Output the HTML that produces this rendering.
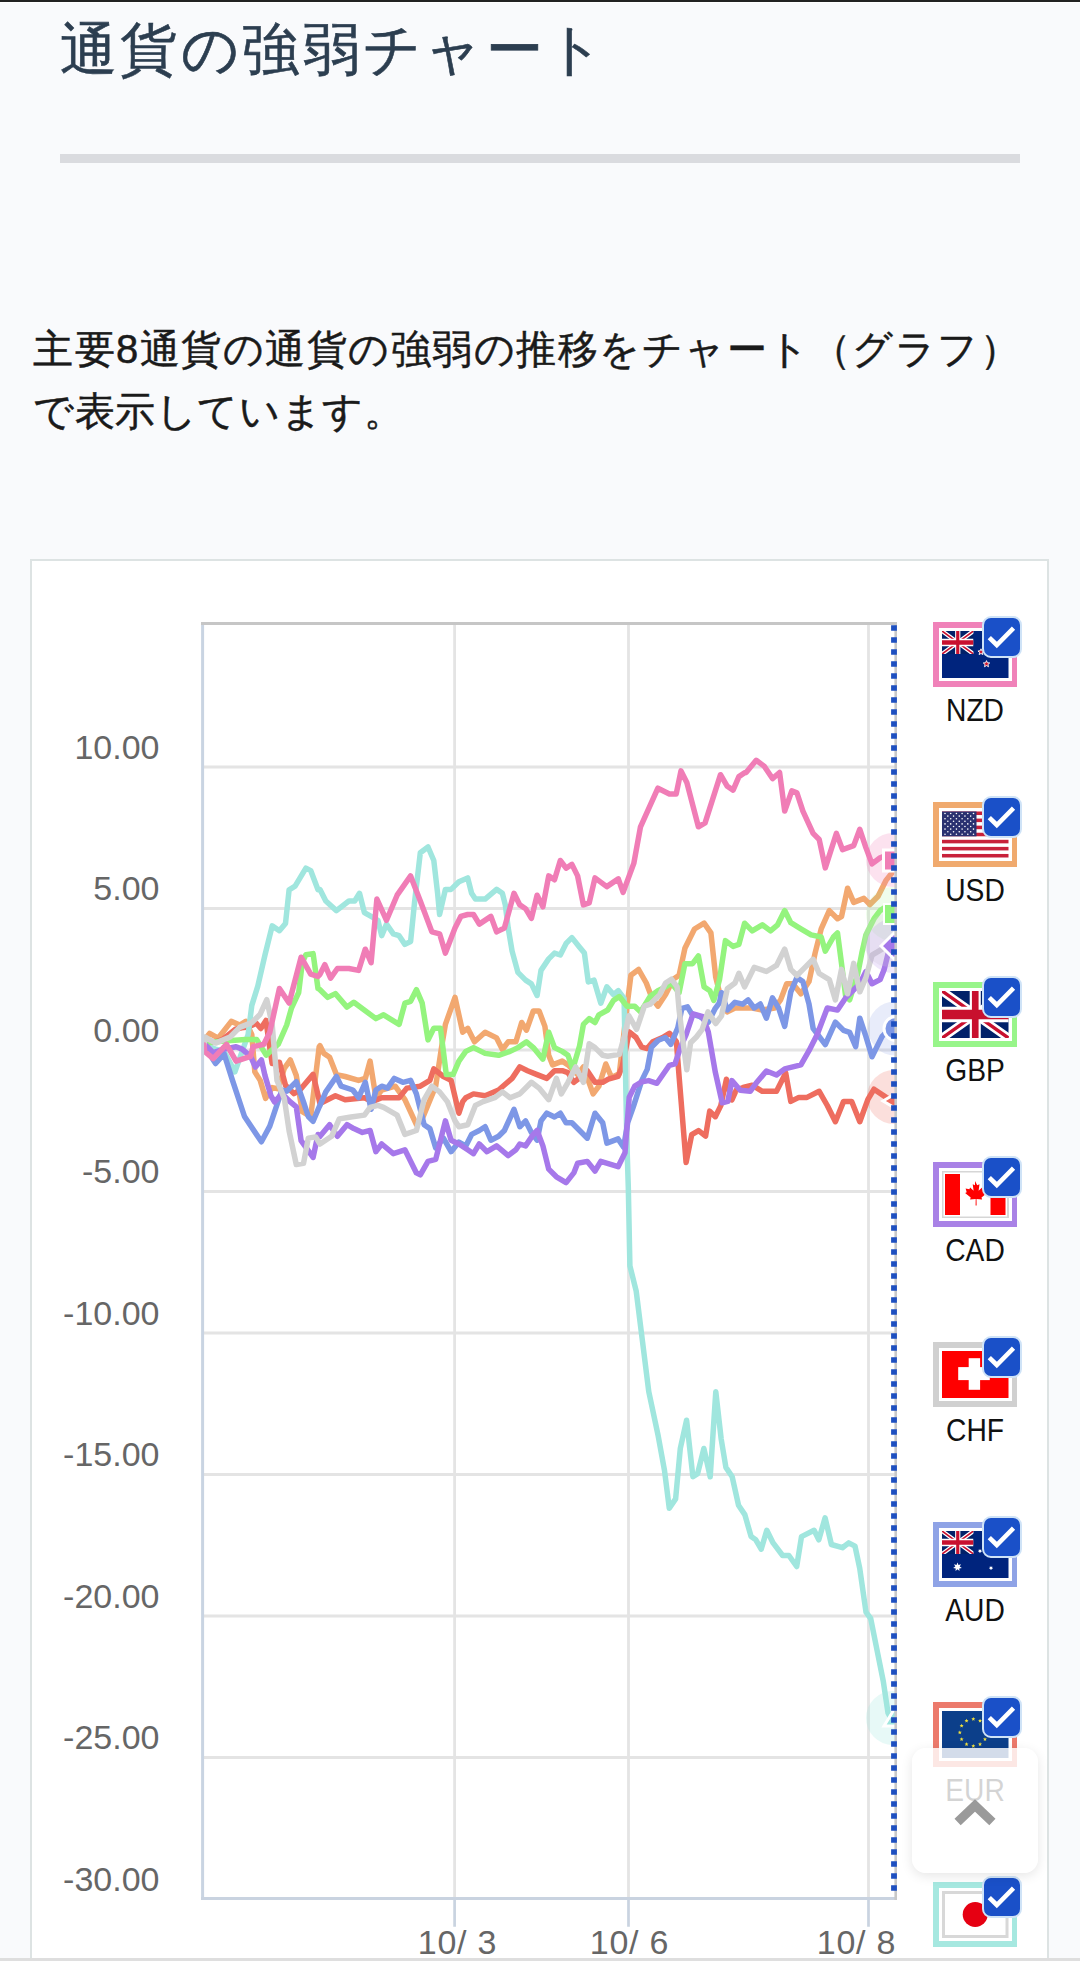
<!DOCTYPE html>
<html><head><meta charset="utf-8">
<style>
html,body{margin:0;padding:0;}
body{width:1080px;height:1970px;overflow:hidden;background:#f9fafc;position:relative;font-family:"Liberation Sans",sans-serif;}
.topbar{position:absolute;left:0;top:0;width:1080px;height:2px;background:#222;}
.topw{position:absolute;left:0;top:2px;width:1080px;height:1px;background:#fff;}
.title{position:absolute;left:60px;top:9px;-webkit-text-stroke:0.6px #2c3e50;font-size:57px;line-height:80px;color:#2c3e50;white-space:nowrap;letter-spacing:3.4px;}
.divider{position:absolute;left:60px;top:154px;width:960px;height:9px;background:#dadbdf;}
.para{position:absolute;left:33px;top:318px;font-size:40px;line-height:62px;color:#1a1a1a;white-space:nowrap;letter-spacing:1.5px;-webkit-text-stroke:0.5px #1a1a1a;}
.card{position:absolute;left:30px;top:559px;width:1015px;height:1420px;border:2.5px solid #dde3e3;border-bottom:none;background:#fff;}
.botline{position:absolute;left:0;top:1958px;width:1080px;height:2.7px;background:#dedede;}
.botw{position:absolute;left:0;top:1960.7px;width:1080px;height:10px;background:#fefefe;}
.ylab{position:absolute;width:159.5px;left:0;text-align:right;font-size:34px;color:#666;line-height:40px;}
.xlab{position:absolute;width:120px;text-align:center;font-size:34px;letter-spacing:0.8px;color:#666;line-height:40px;white-space:pre;}
.leg{position:absolute;left:933px;width:84px;height:64.5px;}
.leg .in{position:absolute;left:5.5px;top:5.5px;right:5.5px;bottom:5.5px;background:#fff;}
.leg .flag{position:absolute;left:9px;top:9px;width:66.5px;height:47px;overflow:hidden;line-height:0;}
.leg .chk{position:absolute;left:49.2px;top:-5.8px;width:39.8px;height:41.4px;box-sizing:border-box;border:2.2px solid #cfe3f7;border-radius:9px;background:#1a50c8;overflow:hidden;}
.leg .chk svg{position:absolute;left:-1px;top:0;}
.lname{position:absolute;left:920px;width:110px;text-align:center;font-size:31px;color:#111;line-height:32px;transform:scaleX(0.91);}
.totop{position:absolute;left:912px;top:1748px;width:126px;height:125px;border-radius:14px;background:rgba(255,255,255,0.82);box-shadow:0 3px 12px rgba(0,0,0,0.10);}
svg{display:block;}
</style></head>
<body>
<div class="topbar"></div><div class="topw"></div>
<div class="title">通貨の強弱チャート</div>
<div class="divider"></div>
<div class="para">主要8通貨の通貨の強弱の推移をチャート（グラフ）<br><span style="letter-spacing:0.6px">で表示しています。</span></div>
<div class="card"></div>
<div class="ylab" style="top:727.0px">10.00</div>
<div class="ylab" style="top:868.0px">5.00</div>
<div class="ylab" style="top:1010.0px">0.00</div>
<div class="ylab" style="top:1151.0px">-5.00</div>
<div class="ylab" style="top:1293.0px">-10.00</div>
<div class="ylab" style="top:1434.0px">-15.00</div>
<div class="ylab" style="top:1576.0px">-20.00</div>
<div class="ylab" style="top:1717.0px">-25.00</div>
<div class="ylab" style="top:1859.0px">-30.00</div>
<svg style="position:absolute;left:0;top:0" width="1080" height="1970">
<rect x="202.5" y="623.5" width="693" height="1275" fill="#fff"/>
<g stroke="#e4e4e4" stroke-width="2.8">
<path d="M204,767H895M204,908.5H895M204,1050H895M204,1191.5H895M204,1333H895M204,1474.5H895M204,1616H895M204,1757.5H895"/>
<path d="M454.6,625V1897M628.5,625V1897M868.5,625V1897"/>
</g>
<g stroke="#c9d3e0" stroke-width="2.7"><path d="M454.6,1899V1926.7M628.5,1899V1926.7M868.5,1899V1926.7"/></g>
<clipPath id="mk"><rect x="204" y="625" width="693" height="1272"/></clipPath>
<clipPath id="plot"><rect x="204" y="625" width="690.5" height="1272"/></clipPath>
<g clip-path="url(#plot)">
<path d="M204.0,1045.0 L204.8,1039.4 L209.6,1033.4 L218.1,1038.2 L231.3,1021.4 L239.7,1025.0 L245.7,1021.4 L251.8,1034.6 L254.8,1071.9 L260.2,1080.4 L265.6,1098.4 L272.2,1087.6 L278.2,1088.8 L284.3,1068.3 L290.3,1059.9 L296.3,1075.6 L302.3,1111.7 L310.7,1116.5 L319.2,1046.7 L320.0,1045.7 L323.9,1053.4 L329.6,1057.2 L336.4,1074.6 L345.1,1076.5 L358.6,1080.4 L365.3,1078.4 L370.1,1061.1 L375.9,1097.7 L381.7,1090.0 L395.2,1086.2 L404.9,1099.7 L416.4,1124.7 L422.2,1118.9 L435.7,1086.2 L441.5,1047.6 L445.4,1024.4 L455.0,997.4 L462.7,1032.2 L467.7,1028.3 L474.5,1041.8 L485.1,1032.2 L496.6,1037.9 L502.4,1049.5 L508.2,1041.8 L515.9,1041.8 L521.7,1022.5 L526.5,1030.2 L533.3,1010.9 L539.1,1010.9 L544.9,1026.4 L548.7,1055.3 L552.6,1064.9 L562.2,1061.1 L568.0,1064.9 L577.6,1074.6 L583.4,1066.9 L593.1,1093.9 L598.9,1086.2 L605.8,1064.0 L611.6,1077.5 L619.3,1073.7 L627.0,1006.2 L630.9,975.3 L638.6,969.5 L646.3,983.0 L652.1,998.4 L657.9,1006.2 L665.6,994.6 L673.3,979.2 L679.1,975.3 L684.9,948.3 L694.5,929.0 L704.1,923.2 L710.9,932.9 L715.7,977.2 L719.6,992.7 L727.3,1011.9 L735.0,1008.1 L752.2,1008.0 L762.3,1010.1 L774.5,1008.0 L780.6,999.9 L786.7,983.7 L792.8,983.7 L800.9,993.8 L809.0,981.6 L815.1,953.2 L821.2,928.8 L829.3,910.6 L837.5,918.7 L841.5,916.6 L847.6,888.2 L853.7,902.4 L863.9,898.4 L869.9,904.5 L878.1,896.3 L886.2,880.1 L894.3,869.9" fill="none" stroke="#f2a870" stroke-width="5.5" stroke-linejoin="round" stroke-linecap="round"/>
<path d="M204.0,1045.0 L212.6,1042.6 L222.3,1039.7 L235.5,1029.2 L241.5,1027.8 L248.1,1027.0 L256.3,1023.3 L260.8,1028.5 L266.0,1020.4 L268.9,1041.9 L272.2,1063.5 L279.4,1062.3 L285.5,1085.2 L293.9,1093.6 L299.9,1090.0 L313.1,1074.4 L320.0,1103.5 L335.4,1095.8 L345.1,1099.7 L364.4,1097.7 L372.1,1101.6 L381.7,1097.7 L399.1,1097.7 L406.8,1088.1 L420.3,1086.2 L429.9,1080.4 L433.8,1068.8 L443.4,1076.5 L451.1,1080.4 L458.9,1113.2 L462.7,1101.6 L465.8,1097.7 L473.5,1093.9 L485.1,1095.8 L498.6,1090.0 L512.1,1078.4 L519.8,1066.9 L527.5,1070.7 L537.1,1074.6 L546.8,1078.4 L554.5,1070.7 L562.2,1070.7 L568.0,1072.7 L573.8,1082.3 L581.5,1076.5 L587.3,1070.7 L595.0,1082.3 L602.7,1082.3 L608.3,1079.2 L618.1,1076.4 L622.2,1066.7 L629.2,1031.9 L636.1,1037.5 L641.7,1047.2 L647.2,1048.6 L652.8,1041.7 L662.5,1037.5 L669.4,1033.3 L672.2,1036.1 L676.4,1041.7 L679.2,1077.8 L686.1,1162.5 L691.7,1134.7 L698.6,1130.6 L705.6,1136.1 L709.7,1111.1 L715.3,1116.7 L720.8,1105.6 L726.4,1079.2 L731.9,1100.0 L736.1,1090.3 L743.1,1087.5 L752.2,1085.2 L762.3,1091.3 L776.5,1091.3 L785.7,1073.0 L790.8,1101.4 L798.9,1097.4 L807.0,1097.4 L819.2,1091.3 L827.3,1105.5 L835.4,1121.7 L843.6,1101.4 L851.7,1101.4 L859.8,1121.7 L867.9,1099.4 L874.0,1089.2 L886.2,1097.4 L894.0,1101.0" fill="none" stroke="#ee6d5f" stroke-width="5.5" stroke-linejoin="round" stroke-linecap="round"/>
<path d="M204.0,1045.0 L215.6,1049.1 L224.1,1051.5 L234.9,1071.9 L248.1,1034.6 L251.8,1005.4 L257.8,986.1 L265.0,954.8 L272.2,925.9 L279.4,930.7 L285.5,923.5 L289.1,889.8 L295.1,886.2 L305.9,868.1 L310.7,870.6 L318.0,889.8 L320.0,889.4 L325.8,901.0 L336.4,910.6 L348.9,901.0 L354.7,901.0 L359.5,893.3 L364.4,912.6 L371.1,916.4 L377.9,920.3 L381.7,935.7 L386.5,924.1 L393.3,933.8 L399.1,935.7 L404.9,944.4 L410.6,941.5 L414.5,902.9 L420.3,852.8 L428.0,847.0 L433.8,860.5 L437.6,893.3 L439.6,914.5 L445.4,889.4 L451.1,889.4 L458.9,881.7 L467.7,877.9 L471.6,893.3 L475.4,899.1 L485.1,899.1 L496.6,889.4 L502.4,893.3 L505.3,904.9 L508.2,928.0 L512.1,951.1 L517.9,972.4 L525.6,980.1 L531.4,983.9 L537.1,995.5 L541.0,970.4 L548.7,958.9 L554.5,953.1 L560.3,955.0 L566.1,943.4 L571.9,937.6 L579.6,947.3 L584.4,953.1 L588.3,982.0 L594.0,980.1 L600.8,1003.2 L606.8,986.9 L613.5,994.6 L618.3,990.7 L624.1,998.4 L626.8,1140.0 L628.3,1187.2 L629.9,1265.9 L636.2,1291.1 L642.5,1341.5 L648.8,1391.8 L658.2,1435.9 L664.5,1470.5 L669.3,1508.3 L675.6,1498.9 L680.3,1448.5 L686.6,1420.2 L692.9,1476.8 L697.6,1473.7 L703.9,1448.5 L710.2,1476.8 L715.8,1391.8 L721.2,1439.1 L725.9,1467.4 L732.2,1476.8 L738.5,1505.2 L744.8,1514.6 L751.1,1536.6 L755.8,1539.8 L761.2,1549.2 L766.8,1530.3 L773.1,1542.9 L782.6,1555.5 L788.9,1555.5 L796.7,1566.5 L801.5,1536.6 L814.1,1530.3 L818.8,1539.8 L825.1,1517.8 L831.4,1544.5 L842.4,1547.7 L848.7,1542.9 L855.0,1546.1 L859.7,1568.1 L866.0,1612.2 L870.7,1618.5 L877.0,1650.0 L883.3,1681.4 L888.0,1712.9 L893.0,1722.0" fill="none" stroke="#a0e6de" stroke-width="5.5" stroke-linejoin="round" stroke-linecap="round"/>
<path d="M204.0,1045.0 L212.0,1041.9 L231.3,1040.6 L245.7,1039.4 L256.6,1039.4 L266.2,1055.1 L278.2,1044.3 L286.7,1025.0 L291.5,1008.1 L298.7,992.5 L302.3,962.4 L305.9,954.8 L313.1,953.6 L318.0,988.5 L320.0,989.7 L327.7,997.4 L335.4,993.6 L347.0,1007.1 L353.8,1002.3 L375.9,1018.6 L383.6,1014.8 L399.1,1024.4 L404.9,1003.2 L410.6,1001.3 L416.4,989.7 L422.2,1003.2 L428.0,1039.9 L433.8,1028.3 L440.5,1028.3 L446.3,1074.6 L453.1,1074.6 L458.9,1061.1 L465.8,1051.4 L473.5,1047.6 L485.1,1053.4 L498.6,1055.3 L510.1,1051.4 L517.9,1047.6 L526.5,1041.8 L533.3,1047.6 L542.9,1059.2 L548.7,1032.2 L554.5,1047.6 L562.2,1051.4 L568.0,1055.3 L572.8,1068.8 L579.6,1045.7 L583.4,1024.4 L589.2,1018.6 L595.0,1022.5 L598.9,1014.8 L607.7,1010.0 L613.5,1000.4 L619.3,996.5 L627.0,1006.2 L634.7,1006.2 L640.5,1011.9 L650.1,996.5 L657.9,990.7 L665.6,986.9 L671.4,983.0 L679.1,992.7 L684.9,963.7 L692.6,963.7 L698.4,956.0 L704.1,986.9 L709.9,990.7 L713.8,1000.4 L719.6,979.2 L725.4,940.6 L733.1,946.4 L738.9,944.4 L744.6,923.2 L752.2,930.9 L762.3,924.8 L770.5,930.9 L777.6,924.8 L784.7,910.6 L790.8,922.7 L800.9,928.8 L811.1,934.9 L821.2,937.0 L825.3,951.2 L833.4,937.0 L837.5,932.9 L841.5,963.4 L845.6,995.8 L849.6,999.9 L857.8,973.5 L861.8,953.2 L865.9,934.9 L874.0,918.7 L880.1,910.6 L886.2,906.5 L894.0,914.0" fill="none" stroke="#94f47e" stroke-width="5.5" stroke-linejoin="round" stroke-linecap="round"/>
<path d="M204.0,1045.0 L204.8,1046.7 L215.6,1063.5 L224.1,1053.9 L232.5,1080.4 L244.5,1116.5 L261.4,1141.8 L269.8,1126.1 L281.9,1090.0 L286.7,1091.2 L296.3,1081.6 L303.5,1102.0 L308.3,1116.5 L313.1,1121.3 L319.2,1106.9 L320.0,1105.4 L325.8,1091.9 L336.4,1076.5 L341.2,1086.2 L352.8,1090.0 L358.6,1097.7 L365.3,1082.3 L371.1,1109.3 L375.9,1090.0 L381.7,1086.2 L387.5,1088.1 L394.3,1078.4 L402.9,1082.3 L410.6,1080.4 L416.4,1093.9 L424.1,1124.7 L429.9,1128.6 L435.7,1147.9 L443.4,1138.2 L451.1,1151.7 L458.9,1142.1 L465.8,1145.9 L471.6,1134.4 L479.3,1130.5 L485.1,1126.7 L490.9,1140.2 L498.6,1136.3 L504.4,1130.5 L514.0,1109.3 L519.8,1126.7 L525.6,1120.9 L531.4,1132.4 L537.1,1140.2 L541.0,1120.9 L546.8,1113.2 L554.5,1117.0 L560.3,1113.2 L566.1,1122.8 L571.9,1122.8 L579.6,1130.5 L587.3,1138.2 L595.0,1113.2 L602.7,1122.8 L606.9,1143.1 L618.1,1138.9 L623.6,1147.2 L627.8,1122.2 L633.3,1106.9 L641.7,1080.6 L647.2,1069.4 L651.4,1047.2 L658.3,1040.3 L665.3,1037.5 L670.8,1044.4 L677.8,1027.8 L681.9,1008.3 L687.5,1006.9 L691.7,1013.9 L700.0,1016.7 L708.3,1022.2 L715.3,1008.3 L719.4,1002.8 L721.5,992.7 L727.3,1010.0 L735.0,1002.3 L742.7,1004.2 L748.1,999.9 L754.2,1008.0 L760.3,1004.0 L766.4,1018.2 L772.5,997.9 L778.6,1008.0 L784.7,1026.3 L790.8,991.8 L796.9,977.6 L802.9,981.6 L809.0,1004.0 L813.1,1028.3 L825.3,1044.6 L835.4,1022.2 L843.6,1030.4 L849.6,1032.4 L855.7,1046.6 L859.8,1018.2 L865.9,1036.4 L872.0,1056.8 L882.1,1036.4 L890.3,1028.3 L896.0,1028.5" fill="none" stroke="#7d97e6" stroke-width="5.5" stroke-linejoin="round" stroke-linecap="round"/>
<path d="M204.0,1045.0 L204.8,1044.3 L213.2,1052.7 L224.1,1049.1 L236.1,1046.7 L242.1,1049.1 L250.6,1056.3 L255.4,1067.1 L261.4,1059.9 L265.0,1075.6 L271.0,1096.0 L274.6,1102.0 L281.9,1093.6 L289.1,1100.8 L296.3,1106.9 L301.1,1140.6 L313.1,1157.4 L318.0,1134.5 L320.0,1136.3 L329.6,1124.7 L337.4,1136.3 L347.0,1124.7 L353.8,1128.6 L362.4,1132.4 L370.1,1130.5 L375.9,1151.7 L381.7,1144.0 L393.3,1153.7 L404.9,1149.8 L416.4,1172.9 L420.3,1174.9 L428.0,1161.4 L435.7,1159.4 L445.4,1120.9 L451.1,1140.2 L458.9,1144.0 L467.7,1149.8 L473.5,1153.7 L479.3,1144.0 L487.0,1151.7 L496.6,1145.9 L508.2,1155.6 L515.9,1149.8 L519.8,1144.0 L525.6,1145.9 L533.3,1134.4 L537.1,1130.5 L542.9,1145.9 L548.7,1169.1 L556.4,1176.8 L566.1,1182.6 L573.8,1172.9 L577.6,1163.3 L587.3,1161.4 L595.0,1171.0 L600.8,1161.4 L618.1,1166.7 L625.0,1152.8 L629.2,1097.2 L634.7,1086.1 L641.7,1081.9 L648.6,1080.6 L656.9,1083.3 L669.4,1065.3 L675.0,1063.9 L680.6,1047.2 L686.1,1034.7 L693.1,1013.9 L702.8,1016.7 L708.3,1031.9 L715.3,1072.2 L722.2,1102.8 L727.8,1101.4 L731.9,1080.6 L740.3,1090.3 L750.2,1091.3 L756.2,1083.1 L766.4,1071.0 L776.5,1075.0 L784.7,1068.9 L800.9,1064.9 L809.0,1050.7 L817.2,1034.4 L827.3,1008.0 L837.5,1010.1 L845.6,997.9 L851.7,991.8 L859.8,983.7 L865.9,971.5 L872.0,983.7 L880.1,979.6 L884.2,969.4 L888.2,953.2 L894.3,943.0" fill="none" stroke="#a678ea" stroke-width="5.5" stroke-linejoin="round" stroke-linecap="round"/>
<path d="M204.0,1045.0 L204.8,1037.0 L215.6,1043.1 L230.1,1037.0 L239.7,1027.4 L251.8,1022.6 L260.2,1014.2 L266.8,999.7 L272.2,1025.0 L277.0,1080.4 L284.3,1098.4 L289.1,1130.9 L296.3,1164.6 L303.5,1163.4 L308.3,1138.1 L315.6,1136.9 L320.0,1144.0 L331.6,1136.3 L339.3,1118.9 L350.9,1117.0 L364.4,1115.1 L370.1,1107.4 L377.9,1105.4 L383.6,1107.4 L397.1,1115.1 L404.9,1134.4 L416.4,1130.5 L424.1,1099.7 L431.9,1086.2 L439.6,1091.9 L447.3,1101.6 L455.0,1120.9 L458.9,1126.7 L467.7,1124.7 L475.4,1105.4 L483.1,1101.6 L494.7,1097.7 L502.4,1091.9 L510.1,1097.7 L519.8,1093.9 L531.4,1082.3 L539.1,1088.1 L548.7,1099.7 L556.4,1078.4 L561.3,1093.9 L568.0,1082.3 L575.7,1066.9 L583.4,1082.3 L589.2,1043.7 L595.0,1047.6 L602.7,1055.3 L607.7,1056.3 L619.3,1054.4 L625.1,1033.2 L628.9,1015.8 L636.6,1029.3 L644.4,1006.2 L650.1,1004.2 L659.8,994.6 L665.6,983.0 L671.4,979.2 L677.1,986.9 L679.1,1010.0 L682.9,1040.9 L686.8,1069.8 L690.6,1042.8 L696.4,1037.0 L702.2,1029.3 L708.0,1011.9 L715.7,1023.5 L721.5,1015.8 L727.3,988.8 L735.0,983.0 L738.9,973.4 L744.6,986.9 L754.2,967.4 L766.4,971.5 L776.5,965.4 L784.7,949.1 L790.8,969.4 L796.9,975.5 L805.0,967.4 L813.1,959.3 L819.2,973.5 L829.3,979.6 L835.4,999.9 L841.5,969.4 L847.6,993.8 L853.7,963.4 L859.8,991.8 L865.9,977.6 L872.0,955.2 L882.1,949.1 L894.3,943.0" fill="none" stroke="#d2d2d2" stroke-width="5.5" stroke-linejoin="round" stroke-linecap="round"/>
<path d="M204.0,1045.0 L204.8,1051.5 L213.2,1058.7 L226.5,1044.3 L236.1,1061.1 L250.6,1056.3 L253.0,1046.7 L263.8,1044.3 L269.8,1032.2 L279.4,988.5 L289.1,1003.0 L301.1,957.2 L310.7,974.1 L318.0,976.5 L320.0,974.3 L324.8,964.6 L330.6,978.1 L337.4,968.5 L348.9,968.5 L358.6,970.4 L365.3,949.2 L371.1,962.7 L376.9,899.1 L386.5,920.3 L397.1,895.2 L410.6,875.9 L420.3,901.0 L431.9,931.9 L439.6,933.8 L445.4,953.1 L455.0,928.0 L460.8,916.4 L467.7,914.5 L473.5,914.5 L479.3,924.1 L490.9,916.4 L496.6,931.9 L504.4,928.0 L514.0,893.3 L519.8,904.9 L525.6,908.7 L531.4,918.4 L537.1,895.2 L542.9,906.8 L548.7,875.9 L554.5,879.8 L560.3,860.5 L566.1,868.2 L571.9,864.4 L577.6,875.9 L583.4,904.9 L589.2,902.9 L595.0,877.9 L602.7,883.6 L606.8,886.6 L618.3,878.9 L623.1,892.4 L633.8,863.4 L640.5,826.8 L657.9,788.2 L669.4,794.0 L676.2,794.0 L681.0,770.9 L686.8,782.4 L698.4,826.8 L705.1,822.9 L720.5,774.7 L727.3,786.3 L733.1,790.1 L738.9,776.6 L744.6,772.8 L746.1,772.5 L756.2,760.3 L764.4,766.4 L772.5,778.6 L779.6,772.5 L784.7,811.1 L791.8,790.8 L796.9,792.8 L802.9,811.1 L813.1,833.4 L819.2,839.5 L825.3,867.9 L836.4,833.4 L842.5,849.6 L853.7,845.6 L859.8,829.3 L865.9,847.6 L872.0,863.9 L880.1,857.8 L888.2,854.7 L894.0,860.5" fill="none" stroke="#f07db6" stroke-width="5.5" stroke-linejoin="round" stroke-linecap="round"/>
</g><g clip-path="url(#mk)"><circle cx="893" cy="860" r="27" fill="#f07db6" fill-opacity="0.22"/><circle cx="893" cy="914" r="27" fill="#94f47e" fill-opacity="0.15"/><circle cx="890" cy="940" r="27" fill="#d2d2d2" fill-opacity="0.25"/><circle cx="893" cy="946" r="27" fill="#a678ea" fill-opacity="0.18"/><circle cx="895" cy="1028.5" r="27" fill="#7d97e6" fill-opacity="0.18"/><circle cx="894" cy="1097" r="27" fill="#ee6d5f" fill-opacity="0.22"/><circle cx="893" cy="1718" r="27" fill="#a0e6de" fill-opacity="0.25"/><rect x="883.5" y="850" width="21" height="21" fill="#f07db6" stroke="#fff" stroke-width="3"/><rect x="884" y="904" width="20" height="20" fill="#94f47e" stroke="#fff" stroke-width="2"/><path d="M894,933 L907,946 L894,959 L881,946 Z" fill="#a678ea" stroke="#fff" stroke-width="3"/><circle cx="896" cy="1028.5" r="12" fill="#7d97e6" stroke="#fff" stroke-width="3"/><path d="M883,1101 L905,1088 L905,1114 Z" fill="#ee6d5f" stroke="#fff" stroke-width="3"/><path d="M895,1708 L907,1726 L884,1726 Z" fill="#a0e6de" stroke="#fff" stroke-width="3"/>
</g>
<path d="M202.6,622V1900" stroke="#c9d4e2" stroke-width="3"/>
<path d="M201,1898.5H897" stroke="#c9d3e0" stroke-width="2.8"/>
<path d="M201,623.5H897" stroke="#c6c6c6" stroke-width="2.8"/>
<path d="M895.7,622V1900" stroke="#c8c8c8" stroke-width="2.6"/>
<path d="M894,625.2V1891" stroke="#1d4fc0" stroke-width="5.8" stroke-dasharray="5.6 6.4"/>
</svg>
<div class="xlab" style="left:397.5px;top:1921.5px">10/ 3</div>
<div class="xlab" style="left:569.5px;top:1921.5px">10/ 6</div>
<div class="xlab" style="left:796.5px;top:1921.5px">10/ 8</div>
<div class="leg" style="top:622px;background:#f082b9"><div class="in"></div><div class="flag"><svg width="66.5" height="47" viewBox="0 0 66.5 47"><rect width="66.5" height="47" fill="#00247d"/><svg x="0" y="0" width="31.5" height="23" viewBox="0 0 60 30" preserveAspectRatio="none"><rect width="60" height="30" fill="#012169"/><path d="M0,0L60,30M60,0L0,30" stroke="#fff" stroke-width="6"/><path d="M0,0L60,30M60,0L0,30" stroke="#C8102E" stroke-width="2.4"/><path d="M30,0v30M0,15h60" stroke="#fff" stroke-width="10"/><path d="M30,0v30M0,15h60" stroke="#C8102E" stroke-width="6"/></svg><polygon points="39.00,17.80 39.85,19.84 42.04,20.01 40.37,21.44 40.88,23.59 39.00,22.44 37.12,23.59 37.63,21.44 35.96,20.01 38.15,19.84" fill="#cc142b" stroke="#fff" stroke-width="0.9"/><polygon points="50.00,10.00 50.79,11.91 52.85,12.07 51.28,13.42 51.76,15.43 50.00,14.35 48.24,15.43 48.72,13.42 47.15,12.07 49.21,11.91" fill="#cc142b" stroke="#fff" stroke-width="0.9"/><polygon points="56.00,21.00 56.79,22.91 58.85,23.07 57.28,24.42 57.76,26.43 56.00,25.35 54.24,26.43 54.72,24.42 53.15,23.07 55.21,22.91" fill="#cc142b" stroke="#fff" stroke-width="0.9"/><polygon points="44.50,29.60 45.40,31.76 47.73,31.95 45.96,33.47 46.50,35.75 44.50,34.53 42.50,35.75 43.04,33.47 41.27,31.95 43.60,31.76" fill="#cc142b" stroke="#fff" stroke-width="0.9"/></svg></div><div class="chk"><svg width="37" height="37" viewBox="0 0 37 37"><path d="M6.3,19.6 L13.8,27 L30.5,10.2" fill="none" stroke="#fff" stroke-width="4.6"/></svg></div></div><div class="lname" style="top:695px">NZD</div>
<div class="leg" style="top:802px;background:#f0aa6e"><div class="in"></div><div class="flag"><svg width="66.5" height="47" viewBox="0 0 66.5 46"><rect width="66.5" height="46" fill="#fff"/><rect x="0" y="0.00" width="66.5" height="3.54" fill="#c8213a"/><rect x="0" y="7.08" width="66.5" height="3.54" fill="#c8213a"/><rect x="0" y="14.15" width="66.5" height="3.54" fill="#c8213a"/><rect x="0" y="21.23" width="66.5" height="3.54" fill="#c8213a"/><rect x="0" y="28.31" width="66.5" height="3.54" fill="#c8213a"/><rect x="0" y="35.38" width="66.5" height="3.54" fill="#c8213a"/><rect x="0" y="42.46" width="66.5" height="3.54" fill="#c8213a"/><rect x="0" y="0" width="34.5" height="24.8" fill="#2a3170"/><circle cx="3.00" cy="2.00" r="0.8" fill="#fff"/><circle cx="8.70" cy="2.00" r="0.8" fill="#fff"/><circle cx="14.40" cy="2.00" r="0.8" fill="#fff"/><circle cx="20.10" cy="2.00" r="0.8" fill="#fff"/><circle cx="25.80" cy="2.00" r="0.8" fill="#fff"/><circle cx="31.50" cy="2.00" r="0.8" fill="#fff"/><circle cx="5.85" cy="4.60" r="0.8" fill="#fff"/><circle cx="11.55" cy="4.60" r="0.8" fill="#fff"/><circle cx="17.25" cy="4.60" r="0.8" fill="#fff"/><circle cx="22.95" cy="4.60" r="0.8" fill="#fff"/><circle cx="28.65" cy="4.60" r="0.8" fill="#fff"/><circle cx="3.00" cy="7.20" r="0.8" fill="#fff"/><circle cx="8.70" cy="7.20" r="0.8" fill="#fff"/><circle cx="14.40" cy="7.20" r="0.8" fill="#fff"/><circle cx="20.10" cy="7.20" r="0.8" fill="#fff"/><circle cx="25.80" cy="7.20" r="0.8" fill="#fff"/><circle cx="31.50" cy="7.20" r="0.8" fill="#fff"/><circle cx="5.85" cy="9.80" r="0.8" fill="#fff"/><circle cx="11.55" cy="9.80" r="0.8" fill="#fff"/><circle cx="17.25" cy="9.80" r="0.8" fill="#fff"/><circle cx="22.95" cy="9.80" r="0.8" fill="#fff"/><circle cx="28.65" cy="9.80" r="0.8" fill="#fff"/><circle cx="3.00" cy="12.40" r="0.8" fill="#fff"/><circle cx="8.70" cy="12.40" r="0.8" fill="#fff"/><circle cx="14.40" cy="12.40" r="0.8" fill="#fff"/><circle cx="20.10" cy="12.40" r="0.8" fill="#fff"/><circle cx="25.80" cy="12.40" r="0.8" fill="#fff"/><circle cx="31.50" cy="12.40" r="0.8" fill="#fff"/><circle cx="5.85" cy="15.00" r="0.8" fill="#fff"/><circle cx="11.55" cy="15.00" r="0.8" fill="#fff"/><circle cx="17.25" cy="15.00" r="0.8" fill="#fff"/><circle cx="22.95" cy="15.00" r="0.8" fill="#fff"/><circle cx="28.65" cy="15.00" r="0.8" fill="#fff"/><circle cx="3.00" cy="17.60" r="0.8" fill="#fff"/><circle cx="8.70" cy="17.60" r="0.8" fill="#fff"/><circle cx="14.40" cy="17.60" r="0.8" fill="#fff"/><circle cx="20.10" cy="17.60" r="0.8" fill="#fff"/><circle cx="25.80" cy="17.60" r="0.8" fill="#fff"/><circle cx="31.50" cy="17.60" r="0.8" fill="#fff"/><circle cx="5.85" cy="20.20" r="0.8" fill="#fff"/><circle cx="11.55" cy="20.20" r="0.8" fill="#fff"/><circle cx="17.25" cy="20.20" r="0.8" fill="#fff"/><circle cx="22.95" cy="20.20" r="0.8" fill="#fff"/><circle cx="28.65" cy="20.20" r="0.8" fill="#fff"/><circle cx="3.00" cy="22.80" r="0.8" fill="#fff"/><circle cx="8.70" cy="22.80" r="0.8" fill="#fff"/><circle cx="14.40" cy="22.80" r="0.8" fill="#fff"/><circle cx="20.10" cy="22.80" r="0.8" fill="#fff"/><circle cx="25.80" cy="22.80" r="0.8" fill="#fff"/><circle cx="31.50" cy="22.80" r="0.8" fill="#fff"/></svg></div><div class="chk"><svg width="37" height="37" viewBox="0 0 37 37"><path d="M6.3,19.6 L13.8,27 L30.5,10.2" fill="none" stroke="#fff" stroke-width="4.6"/></svg></div></div><div class="lname" style="top:875px">USD</div>
<div class="leg" style="top:982px;background:#98f58a"><div class="in"></div><div class="flag"><svg width="66.5" height="47" viewBox="0 0 60 30" preserveAspectRatio="none"><rect width="60" height="30" fill="#012169"/><path d="M0,0L60,30M60,0L0,30" stroke="#fff" stroke-width="6"/><path d="M0,0L60,30M60,0L0,30" stroke="#C8102E" stroke-width="2.4"/><path d="M30,0v30M0,15h60" stroke="#fff" stroke-width="10"/><path d="M30,0v30M0,15h60" stroke="#C8102E" stroke-width="6"/></svg></div><div class="chk"><svg width="37" height="37" viewBox="0 0 37 37"><path d="M6.3,19.6 L13.8,27 L30.5,10.2" fill="none" stroke="#fff" stroke-width="4.6"/></svg></div></div><div class="lname" style="top:1055px">GBP</div>
<div class="leg" style="top:1162px;background:#a982e6"><div class="in"></div><div class="flag"><svg width="66.5" height="47" viewBox="0 0 66.5 47"><rect width="66.5" height="47" fill="#fff" stroke="#d6d6d6" stroke-width="3"/><rect x="3" y="3" width="15" height="41" fill="#f00"/><rect x="48.5" y="3" width="15" height="41" fill="#f00"/><path d="M33,10 l2.2,4.2 2.3,-1 -0.9,6.5 3.5,-3.2 0.7,1.8 3.8,-0.7 -1.1,3.6 1.6,0.8 -5.6,4.6 0.6,2 -5.6,-0.7 0.1,6.5 h-1 l0.1,-6.5 -5.6,0.7 0.6,-2 -5.6,-4.6 1.6,-0.8 -1.1,-3.6 3.8,0.7 0.7,-1.8 3.5,3.2 -0.9,-6.5 2.3,1 z" fill="#f00"/></svg></div><div class="chk"><svg width="37" height="37" viewBox="0 0 37 37"><path d="M6.3,19.6 L13.8,27 L30.5,10.2" fill="none" stroke="#fff" stroke-width="4.6"/></svg></div></div><div class="lname" style="top:1235px">CAD</div>
<div class="leg" style="top:1342px;background:#d0d0d0"><div class="in"></div><div class="flag"><svg width="66.5" height="47" viewBox="0 0 66.5 47"><rect width="66.5" height="47" fill="#ff0000"/><rect x="16.2" y="16.1" width="31.6" height="13" fill="#fff"/><rect x="26.7" y="7.2" width="11.4" height="31.6" fill="#fff"/></svg></div><div class="chk"><svg width="37" height="37" viewBox="0 0 37 37"><path d="M6.3,19.6 L13.8,27 L30.5,10.2" fill="none" stroke="#fff" stroke-width="4.6"/></svg></div></div><div class="lname" style="top:1415px">CHF</div>
<div class="leg" style="top:1522px;background:#8fa3e6"><div class="in"></div><div class="flag"><svg width="66.5" height="47" viewBox="0 0 66.5 47"><rect width="66.5" height="47" fill="#00247d"/><svg x="0" y="0" width="31.5" height="23" viewBox="0 0 60 30" preserveAspectRatio="none"><rect width="60" height="30" fill="#012169"/><path d="M0,0L60,30M60,0L0,30" stroke="#fff" stroke-width="6"/><path d="M0,0L60,30M60,0L0,30" stroke="#C8102E" stroke-width="2.4"/><path d="M30,0v30M0,15h60" stroke="#fff" stroke-width="10"/><path d="M30,0v30M0,15h60" stroke="#C8102E" stroke-width="6"/></svg><polygon points="15.50,31.50 16.48,33.97 19.02,33.19 17.69,35.50 19.89,37.00 17.26,37.40 17.45,40.05 15.50,38.25 13.55,40.05 13.74,37.40 11.11,37.00 13.31,35.50 11.98,33.19 14.52,33.97" fill="#fff"/><polygon points="49.00,34.80 49.48,36.01 50.72,35.63 50.07,36.76 51.14,37.49 49.86,37.69 49.95,38.98 49.00,38.10 48.05,38.98 48.14,37.69 46.86,37.49 47.93,36.76 47.28,35.63 48.52,36.01" fill="#fff"/><polygon points="38.00,17.80 38.48,19.01 39.72,18.63 39.07,19.76 40.14,20.49 38.86,20.69 38.95,21.98 38.00,21.10 37.05,21.98 37.14,20.69 35.86,20.49 36.93,19.76 36.28,18.63 37.52,19.01" fill="#fff"/><polygon points="55.00,16.80 55.48,18.01 56.72,17.63 56.07,18.76 57.14,19.49 55.86,19.69 55.95,20.98 55.00,20.10 54.05,20.98 54.14,19.69 52.86,19.49 53.93,18.76 53.28,17.63 54.52,18.01" fill="#fff"/></svg></div><div class="chk"><svg width="37" height="37" viewBox="0 0 37 37"><path d="M6.3,19.6 L13.8,27 L30.5,10.2" fill="none" stroke="#fff" stroke-width="4.6"/></svg></div></div><div class="lname" style="top:1595px">AUD</div>
<div class="leg" style="top:1702px;background:#ec7a6c"><div class="in"></div><div class="flag"><svg width="66.5" height="47" viewBox="0 0 66.5 47"><rect width="66.5" height="47" fill="#0c3f8a"/><polygon points="44.80,19.40 45.36,20.74 46.80,20.85 45.70,21.79 46.03,23.20 44.80,22.45 43.57,23.20 43.90,21.79 42.80,20.85 44.24,20.74" fill="#f2e13c"/><polygon points="42.99,26.15 43.55,27.49 44.99,27.60 43.89,28.54 44.23,29.95 42.99,29.20 41.76,29.95 42.09,28.54 40.99,27.60 42.44,27.49" fill="#f2e13c"/><polygon points="38.05,31.09 38.61,32.43 40.05,32.54 38.95,33.48 39.28,34.89 38.05,34.14 36.82,34.89 37.15,33.48 36.05,32.54 37.49,32.43" fill="#f2e13c"/><polygon points="31.30,32.90 31.86,34.24 33.30,34.35 32.20,35.29 32.53,36.70 31.30,35.95 30.07,36.70 30.40,35.29 29.30,34.35 30.74,34.24" fill="#f2e13c"/><polygon points="24.55,31.09 25.11,32.43 26.55,32.54 25.45,33.48 25.78,34.89 24.55,34.14 23.32,34.89 23.65,33.48 22.55,32.54 23.99,32.43" fill="#f2e13c"/><polygon points="19.61,26.15 20.16,27.49 21.61,27.60 20.51,28.54 20.84,29.95 19.61,29.20 18.37,29.95 18.71,28.54 17.61,27.60 19.05,27.49" fill="#f2e13c"/><polygon points="17.80,19.40 18.36,20.74 19.80,20.85 18.70,21.79 19.03,23.20 17.80,22.45 16.57,23.20 16.90,21.79 15.80,20.85 17.24,20.74" fill="#f2e13c"/><polygon points="19.61,12.65 20.16,13.99 21.61,14.10 20.51,15.04 20.84,16.45 19.61,15.70 18.37,16.45 18.71,15.04 17.61,14.10 19.05,13.99" fill="#f2e13c"/><polygon points="24.55,7.71 25.11,9.04 26.55,9.16 25.45,10.10 25.78,11.51 24.55,10.75 23.32,11.51 23.65,10.10 22.55,9.16 23.99,9.04" fill="#f2e13c"/><polygon points="31.30,5.90 31.86,7.24 33.30,7.35 32.20,8.29 32.53,9.70 31.30,8.95 30.07,9.70 30.40,8.29 29.30,7.35 30.74,7.24" fill="#f2e13c"/><polygon points="38.05,7.71 38.61,9.04 40.05,9.16 38.95,10.10 39.28,11.51 38.05,10.75 36.82,11.51 37.15,10.10 36.05,9.16 37.49,9.04" fill="#f2e13c"/><polygon points="42.99,12.65 43.55,13.99 44.99,14.10 43.89,15.04 44.23,16.45 42.99,15.69 41.76,16.45 42.09,15.04 40.99,14.10 42.44,13.99" fill="#f2e13c"/></svg></div><div class="chk"><svg width="37" height="37" viewBox="0 0 37 37"><path d="M6.3,19.6 L13.8,27 L30.5,10.2" fill="none" stroke="#fff" stroke-width="4.6"/></svg></div></div><div class="lname" style="top:1775px">EUR</div>
<div class="leg" style="top:1882px;background:#a6e8e0"><div class="in"></div><div class="flag"><svg width="66.5" height="47" viewBox="0 0 66.5 47"><rect x="1.5" y="1.5" width="63.5" height="44" fill="#fff" stroke="#d8d8d8" stroke-width="3"/><circle cx="33.2" cy="23.5" r="12.5" fill="#e60012"/></svg></div><div class="chk"><svg width="37" height="37" viewBox="0 0 37 37"><path d="M6.3,19.6 L13.8,27 L30.5,10.2" fill="none" stroke="#fff" stroke-width="4.6"/></svg></div></div>
<div class="botline"></div><div class="botw"></div>
<div class="totop"><svg width="126" height="125"><path d="M45.6,74 L63,57.5 L80.4,74" fill="none" stroke="#9a9a9a" stroke-width="9"/></svg></div>
</body></html>
